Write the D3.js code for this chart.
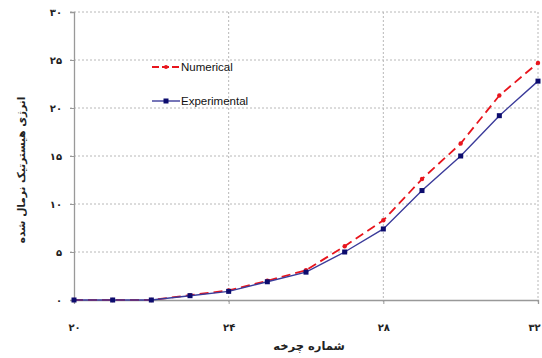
<!DOCTYPE html>
<html>
<head>
<meta charset="utf-8">
<script src="https://cdn.jsdelivr.net/npm/d3@7"></script>
<style>
  html, body { margin: 0; padding: 0; background: #fff; }
  svg { display: block; }
</style>
</head>
<body>
<svg id="chart" width="542" height="358"></svg>
<script>
// Cycle number (x) and normalised hysteretic energy for both series
const cycles = [20, 21, 22, 23, 24, 25, 26, 27, 28, 29, 30, 31, 32];
const numerical = [0, 0, 0, 0.5, 1.0, 2.0, 3.1, 5.6, 8.3, 12.6, 16.3, 21.3, 24.7];
const experimental = [0, 0, 0, 0.45, 0.9, 1.9, 2.9, 5.0, 7.4, 11.4, 15.0, 19.2, 22.8];
const xTicks = [20, 24, 28, 32];
const yTicks = [0, 5, 10, 15, 20, 25, 30];
const seriesNames = ["Numerical", "Experimental"];
const xTitle = "شماره چرخه";
const yTitle = "انرژی هیسترتیک نرمال شده";

const toFa = n => String(n).replace(/\d/g, d => "۰۱۲۳۴۵۶۷۸۹"[d]);

const svg = d3.select("#chart");
const m = { left: 74, right: 538, top: 12, bottom: 300 };

const x = d3.scaleLinear().domain([20, 32]).range([m.left, m.right]);
const y = d3.scaleLinear().domain([0, 30]).range([m.bottom, m.top]);

const grid = "#b8b8b8";
const faFont = "'DejaVu Sans', 'Noto Sans', sans-serif";

// Horizontal dotted gridlines
svg.append("g").selectAll("line").data(yTicks.filter(v => v > 0)).join("line")
  .attr("x1", m.left - 4).attr("x2", m.right)
  .attr("y1", d => y(d)).attr("y2", d => y(d))
  .attr("stroke", grid).attr("stroke-width", 1).attr("stroke-dasharray", "2,2");

// Vertical dotted gridlines
svg.append("g").selectAll("line").data(xTicks.filter(v => v > 20)).join("line")
  .attr("x1", d => x(d)).attr("x2", d => x(d))
  .attr("y1", m.top).attr("y2", m.bottom + 4)
  .attr("stroke", grid).attr("stroke-width", 1).attr("stroke-dasharray", "2,2");

// Axes
const xAxis = d3.axisBottom(x).tickValues(xTicks).tickSize(4).tickFormat(toFa).tickPadding(20);
const gx = svg.append("g").attr("transform", `translate(0,${m.bottom})`).call(xAxis);
gx.select(".domain").attr("stroke", "#999").attr("stroke-width", 1.3);
gx.selectAll(".tick line").attr("stroke", "#999");
gx.selectAll("text").attr("font-family", faFont).attr("font-weight", "bold")
  .attr("font-size", 10).attr("fill", "#222")
  .attr("dx", d => d === 32 ? -4 : 0);

const yAxis = d3.axisLeft(y).tickValues(yTicks).tickSize(4).tickFormat(toFa).tickPadding(8);
const gy = svg.append("g").attr("transform", `translate(${m.left},0)`).call(yAxis);
gy.select(".domain").attr("stroke", "#999").attr("stroke-width", 1.3);
gy.selectAll(".tick line").attr("stroke", "#999");
gy.selectAll("text").attr("font-family", faFont).attr("font-weight", "bold")
  .attr("font-size", 10).attr("fill", "#222");

// Axis titles
svg.append("text").attr("x", 309).attr("y", 350).attr("text-anchor", "middle")
  .attr("font-family", faFont).attr("font-weight", "bold").attr("font-size", 11.5)
  .attr("fill", "#222").text(xTitle);
svg.append("text").attr("transform", "translate(25,170) rotate(-90)")
  .attr("text-anchor", "middle").attr("font-family", faFont).attr("font-weight", "bold")
  .attr("font-size", 10.6).attr("fill", "#222").text(yTitle);

const line = d3.line().x((d, i) => x(cycles[i])).y(d => y(d));

const red = "#e8151d", blue = "#3b3b9a", navy = "#0c0c6e";

// Numerical series: red dashed line with dot markers
svg.append("path").datum(numerical).attr("d", line).attr("fill", "none")
  .attr("stroke", red).attr("stroke-width", 1.8).attr("stroke-dasharray", "9,5");
svg.append("g").selectAll("circle").data(numerical).join("circle")
  .attr("cx", (d, i) => x(cycles[i])).attr("cy", d => y(d)).attr("r", 2.2).attr("fill", red);

// Experimental series: blue solid line with square markers
svg.append("path").datum(experimental).attr("d", line).attr("fill", "none")
  .attr("stroke", blue).attr("stroke-width", 1.4);
svg.append("g").selectAll("rect").data(experimental).join("rect")
  .attr("x", (d, i) => x(cycles[i]) - 2.5).attr("y", d => y(d) - 2.5)
  .attr("width", 5).attr("height", 5).attr("fill", navy);

// Legend
const leg = svg.append("g");
const legRows = [
  { name: seriesNames[0], y: 67, color: red, dash: "7,3", marker: "circle" },
  { name: seriesNames[1], y: 101, color: blue, dash: null, marker: "rect" }
];
legRows.forEach(r => {
  leg.append("line").attr("x1", 152).attr("x2", 180).attr("y1", r.y).attr("y2", r.y)
    .attr("stroke", r.color).attr("stroke-width", r.dash ? 1.8 : 1.4)
    .attr("stroke-dasharray", r.dash);
  if (r.marker === "circle") {
    leg.append("circle").attr("cx", 166).attr("cy", r.y).attr("r", 2).attr("fill", r.color);
  } else {
    leg.append("rect").attr("x", 163.5).attr("y", r.y - 2.5).attr("width", 5).attr("height", 5).attr("fill", navy);
  }
  leg.append("text").attr("x", 181).attr("y", r.y + 4).attr("font-family", "Arial, 'Liberation Sans', sans-serif")
    .attr("font-size", 11.5).attr("fill", "#111").text(r.name);
});
</script>
</body>
</html>
